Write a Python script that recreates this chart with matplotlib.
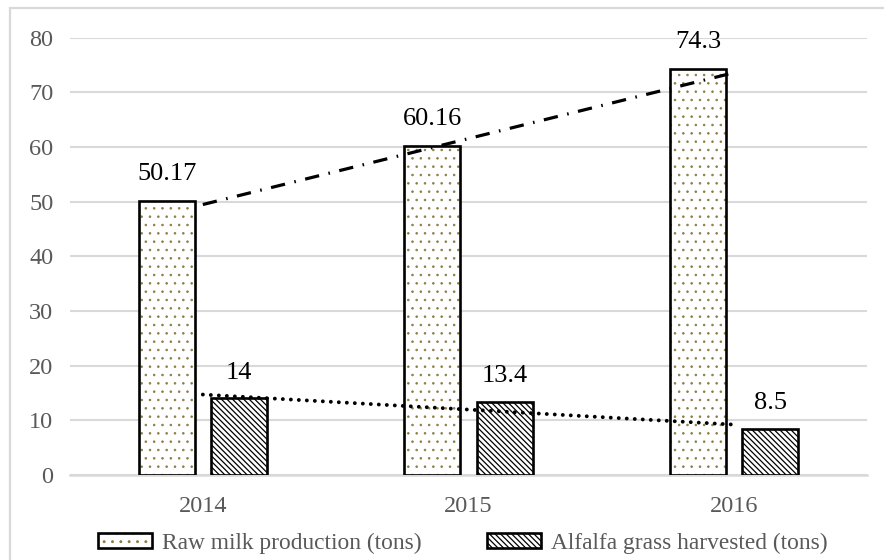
import matplotlib.pyplot as plt
import numpy as np
from matplotlib.patches import Patch, Rectangle
from matplotlib.legend_handler import HandlerTuple

years = ['2014', '2015', '2016']
milk = [50.17, 60.16, 74.3]
alfalfa = [14, 13.4, 8.5]
milk_labels = ['50.17', '60.16', '74.3']
alfalfa_labels = ['14', '13.4', '8.5']

plt.rcParams['font.family'] = ['Liberation Serif', 'DejaVu Serif']

olive = '#8c7c45'
grey_text = '#595959'
grid_col = '#d9d9d9'
dots = '..'
lines = '\\' * 6

fig = plt.figure(figsize=(8.84, 5.6), dpi=100)
ax = fig.add_axes([70 / 884, 1 - 475 / 560, 797 / 884, (475 - 37.7) / 560])

x = np.arange(len(years))
off = 0.136
w = 0.21

# milk bars: small olive dots, then a black outline on top
plt.rcParams['hatch.linewidth'] = 0.6
ax.bar(x - off, milk, w, color='white', edgecolor=olive, hatch=dots, lw=0, zorder=2)
h_dots = Patch(facecolor='white', edgecolor=olive, hatch=dots, lw=0)
ax.bar(x - off, milk, w, fill=False, edgecolor='black', lw=1.9, zorder=3)

# alfalfa bars: black diagonal hatch
plt.rcParams['hatch.linewidth'] = 0.9
ax.bar(x + off, alfalfa, w, color='white', edgecolor='black', hatch=lines, lw=1.9, zorder=3)
h_alf = Patch(facecolor='white', edgecolor='black', hatch=lines, lw=1.9)

for xi, v, s in zip(x - off, milk, milk_labels):
    ax.annotate(s, (xi, v), xytext=(0, 15), textcoords='offset points',
                ha='center', va='baseline', fontsize=19, color='black')
for xi, v, s in zip(x + off, alfalfa, alfalfa_labels):
    ax.annotate(s, (xi, v), xytext=(0, 14), textcoords='offset points',
                ha='center', va='baseline', fontsize=19, color='black')

# linear trend lines
xt = np.array([x[0], x[-1]])
k, b = np.polyfit(x, milk, 1)
ax.plot(xt, k * xt + b, color='black', lw=2.3, ls=(0, (4.5, 3, 0.5, 3)),
        solid_capstyle='butt', zorder=4)
k, b = np.polyfit(x, alfalfa, 1)
ax.plot(xt, k * xt + b, color='black', lw=2.8, ls=(0, (0.01, 2.05)),
        dash_capstyle='round', zorder=4)

ax.set_xlim(-0.5, 2.5)
ax.set_ylim(0, 80)
ax.set_yticks(range(0, 81, 10))
ax.set_xticks(x)
ax.set_xticklabels(years)
ax.yaxis.grid(True, color=grid_col, lw=1.5, zorder=0)
ax.set_axisbelow(True)
for side in ['top', 'right', 'left']:
    ax.spines[side].set_visible(False)
ax.spines['bottom'].set_color(grid_col)
ax.spines['bottom'].set_linewidth(1.8)
ax.tick_params(axis='both', length=0, labelsize=17.5, labelcolor=grey_text)
ax.tick_params(axis='y', pad=12)
ax.tick_params(axis='x', pad=15)

# outer frame
fig.patches.append(Rectangle((10 / 884, -0.05), 1.1, 1 - 8 / 560 + 0.05,
                             transform=fig.transFigure, fill=False,
                             edgecolor=grid_col, lw=1.6))

h_milk = (h_dots, Patch(fill=False, edgecolor='black', lw=1.9))
fig.legend([h_milk, h_alf],
           ['Raw milk production (tons)', 'Alfalfa grass harvested (tons)'],
           handler_map={tuple: HandlerTuple(ndivide=1)},
           loc='center', bbox_to_anchor=(463 / 884, 1 - 543 / 560), ncol=2,
           frameon=False, fontsize=16.8, labelcolor=grey_text,
           handlelength=2.3, handleheight=0.65, handletextpad=0.45,
           columnspacing=2.8)

fig.savefig('out.png', dpi=100)
